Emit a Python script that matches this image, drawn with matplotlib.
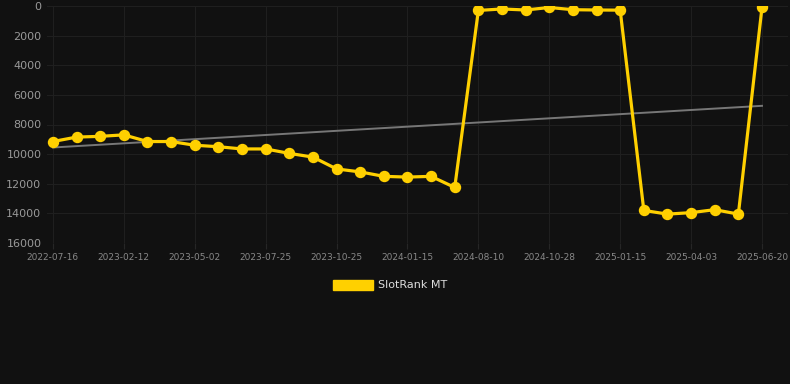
import matplotlib
matplotlib.use("Agg")
import matplotlib.pyplot as plt
import numpy as np
from matplotlib.patches import Patch

# rank per snapshot (lower = better), categorical x-axis
rank = [9150, 8850, 8800, 8700, 9150, 9150, 9400, 9500, 9650, 9650,
        9950, 10200, 11000, 11200, 11500, 11550, 11500, 12250,
        300, 200, 270, 100, 250, 270, 280,
        13800, 14050, 13950, 13750, 14050, 100]
tick_labels = ["2022-07-16", "2023-02-12", "2023-05-02", "2023-07-25",
               "2023-10-25", "2024-01-15", "2024-08-10", "2024-10-28",
               "2025-01-15", "2025-04-03", "2025-06-20"]
tick_every = 3
series_name = "SlotRank MT"

BG = "#111111"
YELLOW = "#FFD000"

x = np.arange(len(rank))
slope, icpt = np.polyfit(x, rank, 1)

fig = plt.figure(figsize=(7.9, 3.84), dpi=100, facecolor=BG)
ax = fig.add_axes([47 / 790, 1 - 243 / 384, 741 / 790, 237 / 384])
ax.set_facecolor(BG)

ax.plot(x, slope * x + icpt, color="#777777", lw=1.4, zorder=2)
ax.plot(x, rank, color=YELLOW, lw=2.3, marker="o", ms=7.2, zorder=3)

ax.set_ylim(16000, 0)
ax.set_yticks(np.arange(0, 16001, 2000))
ax.set_xlim(-0.25, 31.1)
ax.set_xticks(x[::tick_every])
ax.set_xticklabels(tick_labels)

ax.grid(True, color="#1f1f1f", lw=0.8)
for s in ax.spines.values():
    s.set_visible(False)
ax.tick_params(axis="y", length=0, pad=4, labelsize=8, labelcolor="#999999")
ax.tick_params(axis="x", length=4, color="#262626", pad=3, labelsize=6.5,
               labelcolor="#888888")

fig.legend(handles=[Patch(color=YELLOW, label=series_name)],
           loc="center", bbox_to_anchor=(0.494, 1 - 285 / 384),
           frameon=False, fontsize=8, labelcolor="#dddddd",
           handlelength=3.6, handleheight=1.0, handletextpad=0.5)

fig.savefig("out.png", dpi=100, facecolor=BG)
